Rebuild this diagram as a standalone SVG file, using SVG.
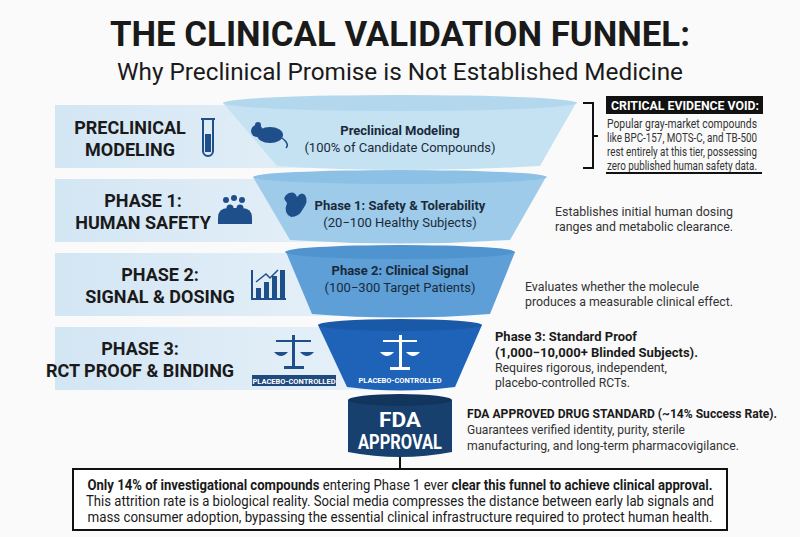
<svg xmlns="http://www.w3.org/2000/svg" width="800" height="537" viewBox="0 0 800 537">
<defs>
<style>
.t{font-family:Roboto,"Liberation Sans",sans-serif;fill:#1a1a1a}
.b{font-weight:bold}
.lbl{font-family:Roboto,"Liberation Sans",sans-serif;font-weight:bold;font-size:18px;fill:#1a1a1a;text-anchor:middle}
.ft{font-family:Roboto,"Liberation Sans",sans-serif;font-size:13px;fill:#1a2a3a;text-anchor:middle}
.pc{font-family:Roboto,"Liberation Sans",sans-serif;font-size:7.5px;font-weight:bold;fill:#fff;text-anchor:middle}
.fda{font-family:Roboto,"Liberation Sans",sans-serif;font-size:20px;font-weight:bold;fill:#fff;text-anchor:middle}
.d{font-family:Roboto,"Liberation Sans",sans-serif;font-size:13px;fill:#333}
.ic{fill:#1f4f8a}
</style>
<linearGradient id="band" x1="0" x2="1"><stop offset="0" stop-color="#d3e6f4"/><stop offset="1" stop-color="#e9f2f9"/></linearGradient>
</defs>
<rect width="800" height="537" fill="#fafafa"/>
<g id="title">
<text x="400" y="46" text-anchor="middle" class="t b" font-size="35" textLength="580" lengthAdjust="spacingAndGlyphs">THE CLINICAL VALIDATION FUNNEL:</text>
<text x="400" y="80" text-anchor="middle" class="t" font-size="24" textLength="566" lengthAdjust="spacingAndGlyphs">Why Preclinical Promise is Not Established Medicine</text>
</g>
<g id="bands">
<rect x="55" y="105" width="360" height="63" fill="url(#band)"/>
<rect x="55" y="179" width="360" height="63" fill="url(#band)"/>
<rect x="55" y="253" width="360" height="63" fill="url(#band)"/>
<rect x="55" y="327" width="360" height="63" fill="url(#band)"/>
</g>
<g id="tier1">
<path d="M223 103 L277 166 Q400 174 540 166 L576 103 Z" fill="#c5e2f3"/>
<ellipse cx="400" cy="103" rx="177" ry="8" fill="#b3d8ee"/>
<text x="400" y="135" class="ft b">Preclinical Modeling</text>
<text x="400" y="152" class="ft">(100% of Candidate Compounds)</text>
<g class="ic"><ellipse cx="270" cy="135" rx="13" ry="8"/><circle cx="257" cy="131" r="6"/><circle cx="258" cy="125" r="3"/><path d="M282 138 q8 6 4 10" stroke="#1f4f8a" fill="none" stroke-width="1.5"/></g>
</g>
<g id="tier2">
<path d="M253 177 L290 240 Q400 247 510 240 L546 177 Z" fill="#9ecbea"/>
<ellipse cx="400" cy="177" rx="147" ry="7" fill="#8cc0e5"/>
<text x="400" y="210" class="ft b">Phase 1: Safety &amp; Tolerability</text>
<text x="400" y="227" class="ft">(20−100 Healthy Subjects)</text>
<path class="ic" d="M287 203 q-6 -6 2 -10 q6 -2 8 4 q4 -6 8 -2 q4 6 -2 14 q-4 8 -12 8 q-8 -4 -4 -14 z"/>
</g>
<g id="tier3">
<path d="M286 252 L312 314 Q400 321 490 314 L515 252 Z" fill="#5d9fd6"/>
<ellipse cx="400" cy="252" rx="115" ry="7" fill="#4f93cf"/>
<text x="400" y="275" class="ft b">Phase 2: Clinical Signal</text>
<text x="400" y="292" class="ft">(100−300 Target Patients)</text>
</g>
<g id="tier4">
<path d="M318 325 L347 387 Q400 394 455 387 L482 325 Z" fill="#1f63b8"/>
<ellipse cx="400" cy="325" rx="82" ry="6" fill="#1a58a8"/>
<g fill="#fff"><rect x="399" y="335" width="3" height="32"/><rect x="383" y="340" width="34" height="2"/><rect x="390" y="367" width="20" height="3"/><path d="M380 352 h14 q-7 8 -14 0z M406 352 h14 q-7 8 -14 0z"/></g>
<text x="400" y="383" class="pc">PLACEBO-CONTROLLED</text>
</g>
<g id="fda">
<path d="M348 400 V452 Q400 462 452 452 V400 Z" fill="#17406f"/>
<ellipse cx="400" cy="400" rx="52" ry="6" fill="#12355e"/>
<text x="400" y="427" class="fda" textLength="42" lengthAdjust="spacingAndGlyphs">FDA</text>
<text x="400" y="449" class="fda" textLength="84" lengthAdjust="spacingAndGlyphs">APPROVAL</text>
</g>
<g id="labels">
<text x="130" y="134" class="lbl">PRECLINICAL</text><text x="130" y="156" class="lbl">MODELING</text>
<g fill="none" stroke="#1f4f8a" stroke-width="2"><path d="M203 119 v32 a5 5 0 0 0 10 0 v-32"/><path d="M201 119 h14"/></g><rect x="205" y="134" width="6" height="18" class="ic"/>
<text x="143" y="207" class="lbl">PHASE 1:</text><text x="143" y="229" class="lbl">HUMAN SAFETY</text>
<g class="ic"><circle cx="226" cy="200" r="3"/><circle cx="234" cy="198" r="3"/><circle cx="242" cy="200" r="3"/><circle cx="230" cy="208" r="3.5"/><circle cx="240" cy="208" r="3.5"/><circle cx="235" cy="214" r="3.5"/><path d="M218 218 q0 -10 10 -10 h14 q10 0 10 10 v6 h-34z"/></g>
<text x="160" y="281" class="lbl">PHASE 2:</text><text x="160" y="303" class="lbl">SIGNAL &amp; DOSING</text>
<g class="ic"><rect x="251" y="270" width="2" height="30"/><rect x="251" y="298" width="35" height="2"/><rect x="256" y="288" width="5" height="10"/><rect x="264" y="282" width="5" height="16"/><rect x="272" y="276" width="5" height="22"/><rect x="280" y="270" width="5" height="28"/><path d="M256 282 l10 -8 4 4 8 -8" stroke="#1f4f8a" fill="none" stroke-width="1.5"/></g>
<text x="140" y="355" class="lbl">PHASE 3:</text><text x="140" y="377" class="lbl">RCT PROOF &amp; BINDING</text>
<g class="ic"><rect x="292" y="335" width="3" height="32"/><rect x="276" y="340" width="35" height="2"/><rect x="284" y="366" width="20" height="3"/><path d="M274 352 h14 q-7 8 -14 0z M300 352 h14 q-7 8 -14 0z"/></g>
<rect x="252" y="375" width="84" height="11" fill="#1f4a80"/>
<text x="294" y="383.5" class="pc">PLACEBO-CONTROLLED</text>
</g>
<g id="notes">
<rect x="606" y="96" width="157" height="18" fill="#111"/>
<text x="611" y="110" class="t b" font-size="13.5" style="fill:#fff" textLength="148" lengthAdjust="spacingAndGlyphs">CRITICAL EVIDENCE VOID:</text>
<path d="M583 103 h10 v65 h-10 M593 136 h5" fill="none" stroke="#111" stroke-width="2"/>
<text class="d"><tspan x="607" y="128" textLength="150" lengthAdjust="spacingAndGlyphs">Popular gray-market compounds</tspan><tspan x="607" y="142" textLength="150" lengthAdjust="spacingAndGlyphs">like BPC-157, MOTS-C, and TB-500</tspan><tspan x="607" y="156" textLength="150" lengthAdjust="spacingAndGlyphs">rest entirely at this tier, possessing</tspan><tspan x="607" y="170" textLength="150" lengthAdjust="spacingAndGlyphs">zero published human safety data.</tspan></text>
<rect x="606" y="172" width="156" height="2" fill="#111"/>
<text class="d"><tspan x="555" y="216" textLength="178" lengthAdjust="spacingAndGlyphs">Establishes initial human dosing</tspan><tspan x="555" y="231" textLength="178" lengthAdjust="spacingAndGlyphs">ranges and metabolic clearance.</tspan></text>
<text class="d"><tspan x="525" y="291" textLength="174" lengthAdjust="spacingAndGlyphs">Evaluates whether the molecule</tspan><tspan x="525" y="306" textLength="208" lengthAdjust="spacingAndGlyphs">produces a measurable clinical effect.</tspan></text>
<text class="d"><tspan x="495" y="341" class="b" style="fill:#1a1a1a" textLength="142" lengthAdjust="spacingAndGlyphs">Phase 3: Standard Proof</tspan><tspan x="495" y="357" class="b" style="fill:#1a1a1a" textLength="203" lengthAdjust="spacingAndGlyphs">(1,000−10,000+ Blinded Subjects).</tspan><tspan x="495" y="372" textLength="172" lengthAdjust="spacingAndGlyphs">Requires rigorous, independent,</tspan><tspan x="495" y="387" textLength="135" lengthAdjust="spacingAndGlyphs">placebo-controlled RCTs.</tspan></text>
<text class="d"><tspan x="467" y="418" class="b" style="fill:#1a1a1a" textLength="310" lengthAdjust="spacingAndGlyphs">FDA APPROVED DRUG STANDARD (~14% Success Rate).</tspan><tspan x="467" y="434" textLength="218" lengthAdjust="spacingAndGlyphs">Guarantees verified identity, purity, sterile</tspan><tspan x="467" y="450" textLength="272" lengthAdjust="spacingAndGlyphs">manufacturing, and long-term pharmacovigilance.</tspan></text>
</g>
<g id="connectors"><line x1="400" y1="457" x2="400" y2="469" stroke="#111" stroke-width="2"/></g>
<g id="summary">
<rect x="73" y="469" width="654" height="61" fill="#fff" stroke="#111" stroke-width="2"/>
<text x="400" y="490" text-anchor="middle" class="t" font-size="14" textLength="625" lengthAdjust="spacingAndGlyphs"><tspan class="b">Only 14% of investigational compounds</tspan> entering Phase 1 ever <tspan class="b">clear this funnel to achieve clinical approval.</tspan></text>
<text x="400" y="506" text-anchor="middle" class="t" font-size="14" fill="#333" textLength="628" lengthAdjust="spacingAndGlyphs">This attrition rate is a biological reality. Social media compresses the distance between early lab signals and</text>
<text x="400" y="522" text-anchor="middle" class="t" font-size="14" textLength="625" lengthAdjust="spacingAndGlyphs">mass consumer adoption, bypassing the essential clinical infrastructure required to protect human health.</text>
</g>
</svg>
